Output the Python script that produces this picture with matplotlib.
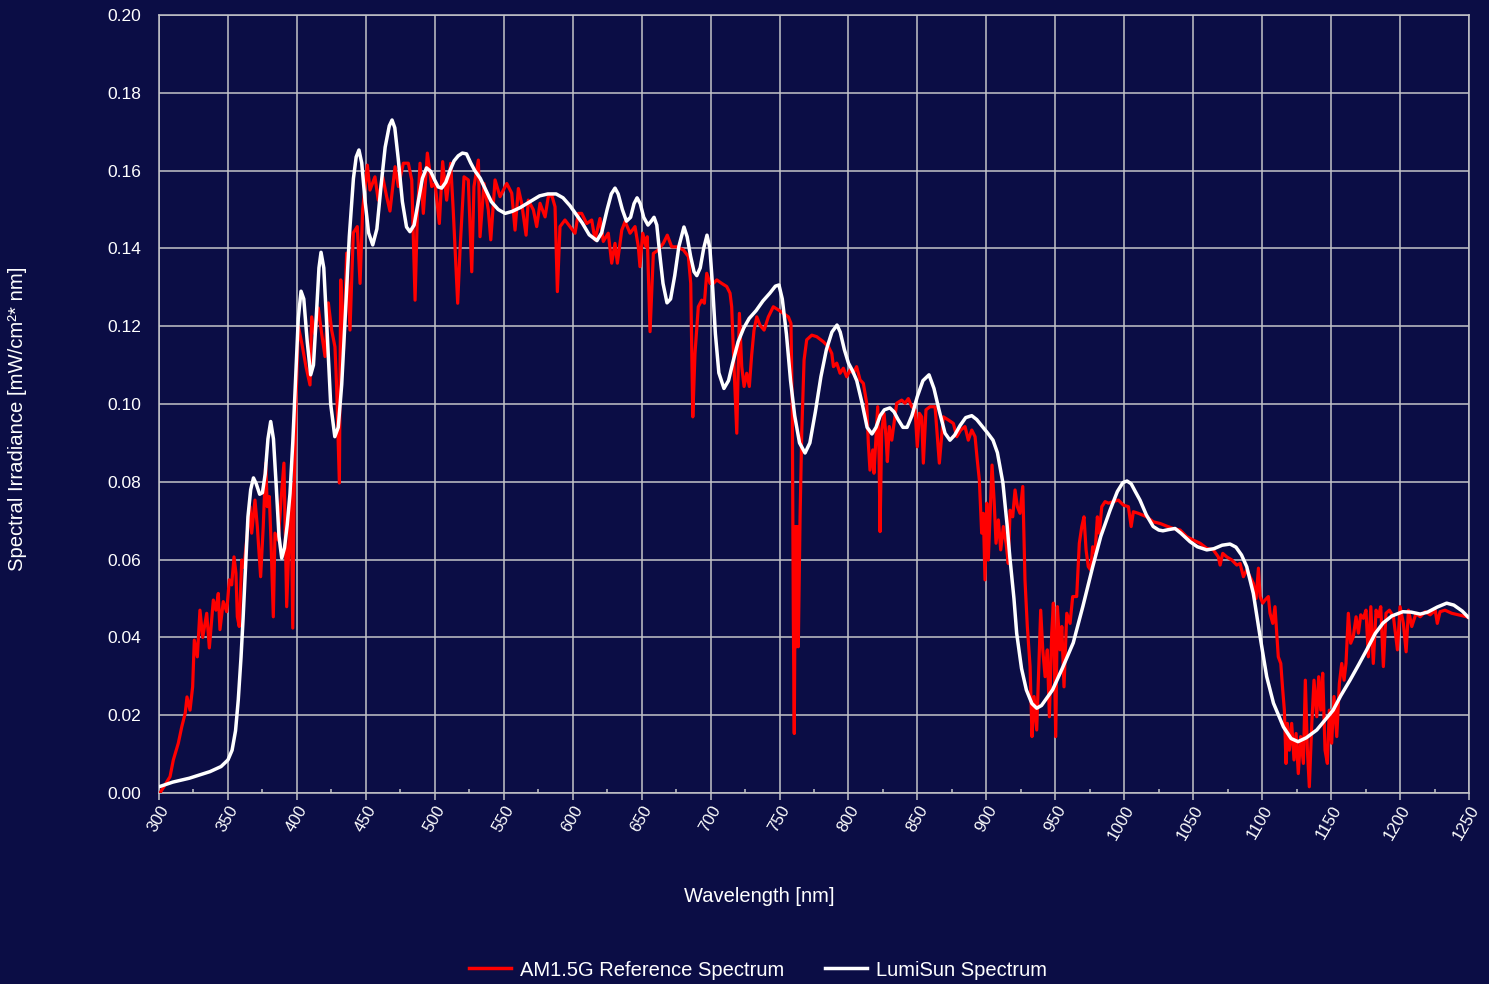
import matplotlib
matplotlib.use("Agg")
import matplotlib.pyplot as plt
from matplotlib.lines import Line2D

# ---------------- data ----------------
x_ticks = list(range(300, 1251, 50))
y_ticks = [0.00, 0.02, 0.04, 0.06, 0.08, 0.10, 0.12, 0.14, 0.16, 0.18, 0.20]

am15g_nm = [
    300.7, 308, 310.4, 314, 316.5, 319, 320.3, 322.5, 324.4, 325.6, 327.8, 329.7, 331.7, 334.6, 336.5,
    339.4, 341.3, 343, 344.2, 346.6, 349.1, 351, 352.7, 354.4, 355.8, 356.8, 358.2, 360, 361.6,
    363.6, 366, 367.2, 369.6, 371.3, 373.7, 375.6, 377.4, 378.5, 380, 381.2, 382.9, 384.1, 386.5,
    388.5, 390.6, 392.6, 394.5, 395.7, 397, 398.1, 399.4, 401, 403.5, 406.6, 409.5, 410.7, 413,
    415.5, 418, 420.4, 422.8, 425.2, 427.6, 428.9, 430.8, 431.8, 433.7, 436.1, 438.5, 440.9, 443.8,
    445.8, 447.7, 451.1, 453, 456.6, 459, 462.2, 465.1, 467.5, 471.2, 473.6, 477.2, 480.8, 483.3,
    485.7, 487.3, 489.3, 491.7, 494.6, 497.8, 500.2, 503.3, 505.7, 508.6, 511.5, 513.4, 516.6, 518.3,
    521.2, 524.3, 526.8, 528.4, 531.6, 532.8, 535.7, 538.8, 540.6, 543.7, 547.3, 552.2, 555.8, 558.2,
    560.6, 563, 566.2, 567.8, 571.5, 573.9, 576.3, 580, 582.3, 584.8, 587.2, 588.9, 590.8, 594.4,
    598, 601.7, 604.1, 606.5, 610.2, 613.8, 616.2, 619.8, 622.2, 625.8, 628.3, 630.7, 632.4, 635.6,
    638, 641.6, 645.2, 647.6, 648.8, 650.8, 653.2, 654.1, 656.1, 658.5, 662.1, 665.7, 668.6, 671.8,
    675.5, 680.3, 683.9, 685.6, 687.1, 688.7, 691.1, 693.6, 695.5, 697.2, 699.6, 702, 704.5, 708.1,
    711.7, 714.1, 715.3, 717, 719, 720.9, 722.6, 724.3, 726.2, 728.1, 729.8, 731.5, 733.5, 735.8,
    738.8, 741.9, 745.5, 749.1, 752.8, 756.4, 758.3, 759.3, 760, 760.7, 761.5, 762.2, 762.9, 763.6,
    764.9, 766.1, 767.8, 769.7, 773.4, 777, 781.8, 785.5, 787.9, 789.1, 791.5, 793.9, 796.3, 798.7,
    801.2, 803.5, 805.9, 808.4, 810.8, 813.2, 814.4, 815.6, 817.6, 818.5, 820, 821.2, 822.2, 822.9,
    824.1, 825.8, 827.2, 828.2, 829.6, 831.4, 833, 835, 838.6, 841, 843.4, 845.9, 848.3, 849.9,
    851.4, 853.1, 854.3, 856.2, 859.1, 862.8, 865.9, 868.8, 872.4, 876.1, 878.5, 881.4, 884.5, 886.9,
    889.4, 891.8, 893.4, 894.9, 896.6, 897.8, 899, 900.3, 901.4, 902.6, 904.1, 905.6, 907, 908.7,
    910.4, 912.3, 914.3, 915.9, 917.2, 919.1, 920.8, 922.5, 924.4, 926.4, 928, 929.7, 931.7, 933.1,
    934.6, 936.5, 938, 939.4, 940.9, 942.6, 944.2, 945.7, 947.4, 948.6, 950.3, 951.5, 953.4, 954.7,
    956.3, 958.3, 960.7, 962.6, 965.5, 967.4, 969.2, 970.8, 972.3, 973.9, 975.7, 977.1, 978.8, 980.5,
    981.9, 983.7, 986.1, 988.5, 992.1, 995.7, 999.4, 1003, 1005, 1006.6, 1010.2, 1016.3, 1021.1,
    1025.9, 1030.8, 1035.6, 1040.5, 1045.3, 1050.1, 1055, 1059.8, 1064.6, 1068.2, 1069.5, 1071.4,
    1074.3, 1078, 1081.6, 1084, 1086.4, 1088.8, 1091.2, 1093.6, 1095.6, 1097.3, 1098.5, 1100.4,
    1102.1, 1104.5, 1105.7, 1107.7, 1109.3, 1110.6, 1111.7, 1113.5, 1114.9, 1116.1, 1117.3, 1118.3,
    1119.7, 1121.4, 1123.1, 1124.6, 1126.2, 1127.9, 1129.9, 1131.3, 1132.8, 1134.2, 1136, 1137.6,
    1139.6, 1141, 1142.5, 1143.9, 1145.6, 1147.3, 1148.7, 1150.4, 1152.1, 1154.1, 1156, 1157.7,
    1159.4, 1160.8, 1162.5, 1164.2, 1166.1, 1168.1, 1169.8, 1171.5, 1173.4, 1175.3, 1177, 1178.8,
    1180.6, 1182.6, 1184.2, 1186, 1187.9, 1189.8, 1192.3, 1195.2, 1198.1, 1200, 1202.4, 1204.4,
    1206.1, 1208.5, 1211.6, 1214.6, 1218.2, 1221.8, 1225.5, 1227, 1229, 1232.6, 1237.5, 1242.3,
    1248.4, 1250,
]
am15g_val = [
    0.000, 0.0042, 0.0085, 0.0128, 0.017, 0.0205, 0.0247, 0.0213, 0.0273, 0.0393, 0.035, 0.047, 0.040,
    0.0462, 0.0373, 0.0496, 0.047, 0.0513, 0.042, 0.0492, 0.0466, 0.0548, 0.0535, 0.0607, 0.0565,
    0.0453, 0.0428, 0.0599, 0.058,
    0.065, 0.0736, 0.0668, 0.0753, 0.0685, 0.0556, 0.0685, 0.0848, 0.0736, 0.0762, 0.065, 0.0453,
    0.0668, 0.065, 0.0753, 0.0848, 0.0479, 0.0668, 0.0797, 0.0424, 0.0797, 0.101, 0.120, 0.1157,
    0.1096, 0.1049, 0.1224, 0.118, 0.1247, 0.118, 0.1122, 0.126, 0.119, 0.1147, 0.1036, 0.0797,
    0.1319, 0.1131, 0.1388, 0.119, 0.144, 0.1456, 0.131, 0.150, 0.1614, 0.155, 0.1584, 0.1524,
    0.1584, 0.1533, 0.1496, 0.161, 0.1559, 0.1619, 0.1619, 0.1576, 0.1267, 0.1481, 0.1619, 0.149,
    0.1645, 0.1559, 0.1567, 0.1464, 0.1623, 0.1524, 0.1619, 0.1496, 0.1259, 0.1396, 0.1584, 0.1576,
    0.134, 0.1559, 0.1627, 0.143, 0.1567, 0.1499, 0.1422, 0.1576, 0.1533, 0.1567, 0.1542, 0.1447,
    0.1554, 0.1516, 0.1434, 0.1524, 0.1499, 0.1456, 0.1516, 0.1481, 0.1533, 0.1537, 0.1507, 0.1289,
    0.1456, 0.1473, 0.1456, 0.1439, 0.149, 0.149, 0.1464, 0.1473, 0.1422, 0.1477, 0.1418, 0.1439,
    0.1362, 0.1413, 0.1362, 0.1447, 0.1469, 0.1439, 0.1456, 0.1404, 0.1353, 0.1439, 0.1404, 0.143,
    0.1186, 0.1387, 0.1396, 0.1413, 0.1434, 0.1404, 0.1404, 0.1396, 0.1379, 0.131, 0.0967, 0.113,
    0.125, 0.1267, 0.1259, 0.1336, 0.131, 0.131, 0.1319, 0.131, 0.1302, 0.1285, 0.125, 0.1096,
    0.0925, 0.1233, 0.1096, 0.1045, 0.1079, 0.1045, 0.1126, 0.119, 0.1224, 0.1203, 0.119, 0.1224,
    0.125, 0.1242, 0.1233, 0.1224, 0.1207, 0.0967, 0.0453, 0.0153, 0.0685, 0.0376, 0.0685, 0.0376,
    0.071, 0.0925, 0.1113, 0.1165, 0.1177, 0.1173, 0.116, 0.1147, 0.113, 0.1096, 0.1105, 0.1079,
    0.1092, 0.107, 0.1087, 0.1079, 0.1096, 0.1062, 0.1053, 0.1002, 0.0899, 0.083, 0.0882, 0.0822,
    0.0916, 0.0993, 0.0865, 0.0672, 0.0933, 0.0976, 0.0916, 0.0852, 0.0942, 0.0907, 0.095, 0.1002,
    0.101, 0.1002, 0.1014, 0.0993, 0.0985, 0.089, 0.0976, 0.0967, 0.0848, 0.0985, 0.0993, 0.0993,
    0.0848, 0.0967, 0.0959, 0.095, 0.0916, 0.0933, 0.0942, 0.0907, 0.0933, 0.0916, 0.0856, 0.0805,
    0.0668, 0.0719, 0.0548, 0.0745, 0.0599, 0.071, 0.0843, 0.0753, 0.0642, 0.0702, 0.0625, 0.0685,
    0.0642, 0.059, 0.0727, 0.071, 0.0779, 0.0736, 0.0719, 0.0788, 0.0548, 0.0428, 0.0325, 0.0145,
    0.0248, 0.0162, 0.0325, 0.047, 0.0368, 0.0299, 0.0368, 0.0196, 0.0411, 0.0488, 0.0145, 0.0479,
    0.0368, 0.0428, 0.0273, 0.0462, 0.0436, 0.0505, 0.0505, 0.0642, 0.0685, 0.071, 0.0625, 0.0582,
    0.0573, 0.0633, 0.0616, 0.071, 0.0668, 0.0736, 0.0749, 0.0745, 0.0749, 0.0753, 0.074, 0.0736,
    0.0685, 0.0723, 0.0719, 0.071, 0.0697, 0.0693, 0.0686, 0.068, 0.0676, 0.0659, 0.065, 0.0642,
    0.0629, 0.0625, 0.0607, 0.0586, 0.0616, 0.0607, 0.0599, 0.0586, 0.059, 0.0556, 0.0573, 0.0556,
    0.0539, 0.050, 0.0578, 0.0505, 0.0488, 0.0496, 0.0505, 0.0462, 0.0436, 0.0479, 0.0411, 0.035,
    0.0333, 0.0265, 0.0213, 0.0076, 0.0179, 0.011, 0.0179, 0.0085, 0.0153, 0.005, 0.0145, 0.0076,
    0.029, 0.011, 0.0016, 0.0179, 0.029, 0.0196, 0.0299, 0.0213, 0.0308, 0.011, 0.0076, 0.0213,
    0.0128, 0.0248, 0.0145, 0.0282, 0.0333, 0.029, 0.0333, 0.0462, 0.0385, 0.0402, 0.0453, 0.0411,
    0.0458, 0.0449, 0.047, 0.035, 0.0479, 0.0333, 0.047, 0.0453, 0.0479, 0.0325, 0.0462, 0.047,
    0.0453, 0.0368, 0.0479, 0.0436, 0.0363, 0.047, 0.0428, 0.0462, 0.0453, 0.0466, 0.0458, 0.047,
    0.0436, 0.0466, 0.047, 0.0462, 0.0458, 0.0453, 0.045,
]

lumisun_nm = [
    300, 310, 322, 337, 345, 350, 353, 355.5, 357.5, 359.5, 361, 363, 364.5, 366.5, 368.5, 370.5,
    373, 375, 377, 379, 381, 383, 385, 387, 389, 391, 393, 395, 397, 399, 401, 403, 405, 407.5, 410,
    412, 414, 416, 417.5, 419.5, 422, 424.5, 427.5, 430, 432.5, 435, 438, 441, 443, 445, 447, 449.5,
    452, 455, 458, 461, 464, 467, 469, 471, 473.5, 476.5, 479.5, 482, 485, 488, 491, 494, 497, 500,
    502.5, 505, 508, 511, 514, 517, 520, 523, 526, 529, 533, 537, 541, 546, 551, 556, 562, 569, 576,
    582, 588, 593, 598, 602, 607, 612, 617.6, 621, 625, 628, 630.7, 633, 636, 639, 642, 644.5, 646.7,
    649, 651.5, 654.6, 657, 659, 661, 663, 665.5, 668.4, 671, 674, 677, 680.7, 683, 685.5, 688, 690,
    692.5, 695, 697.4, 699.5, 701.5, 703.5, 706, 709.7, 713, 716, 720, 724, 728, 733, 738, 743, 747,
    749.6, 752, 755, 758, 761, 764.5, 768.5, 772, 776, 780, 784, 788, 791.7, 794, 797, 800, 803, 806,
    810, 813.5, 817, 820, 823, 826, 830, 833, 836, 839.5, 842.5, 846, 850, 854, 858.4, 862, 866, 870,
    873.6, 877, 881, 885, 889.4, 893, 897.6, 901, 904.8, 908, 912, 915, 917, 920, 922, 925.5, 929,
    933, 936.5, 940, 944, 948, 955, 963, 970, 977, 983, 989.7, 995, 999, 1002, 1005, 1008, 1011.4,
    1016, 1021, 1025, 1028, 1032, 1036.8, 1041, 1047.7, 1053, 1059.8, 1065, 1071, 1076.7, 1081, 1085,
    1088.8, 1093.6, 1098.5, 1103.3, 1108.2, 1115.4, 1121, 1126, 1132, 1139.6, 1145, 1151.5, 1157,
    1163.7, 1170, 1175.8, 1182, 1187.7, 1194, 1202, 1208, 1214.6, 1220, 1227, 1233.8, 1239, 1245,
    1250,
]
lumisun_val = [
    0.0016, 0.0028, 0.0038, 0.0055, 0.0068, 0.0085, 0.011, 0.016, 0.024, 0.035, 0.045, 0.060, 0.071,
    0.078, 0.081, 0.0795, 0.0768, 0.0772, 0.082, 0.091, 0.0955, 0.091, 0.079, 0.066, 0.0604, 0.063,
    0.069, 0.077, 0.090, 0.106, 0.122, 0.129, 0.127, 0.116, 0.1075, 0.110, 0.122, 0.135, 0.139, 0.135,
    0.118, 0.100, 0.0916, 0.094, 0.105, 0.122, 0.143, 0.158, 0.1635, 0.1653, 0.162, 0.152, 0.144,
    0.1409, 0.145, 0.156, 0.166, 0.1715, 0.173, 0.171, 0.163, 0.152, 0.1455, 0.1443, 0.146, 0.152,
    0.158, 0.1607, 0.1598, 0.1575, 0.1558, 0.1555, 0.157, 0.160, 0.1625, 0.1638, 0.1645, 0.1643,
    0.162, 0.160, 0.158, 0.155, 0.152, 0.150, 0.149, 0.1495, 0.1505, 0.152, 0.1535, 0.154, 0.154,
    0.153, 0.151, 0.149, 0.1465, 0.1435, 0.142, 0.144, 0.150, 0.154, 0.1555, 0.154, 0.150, 0.147,
    0.148, 0.1515, 0.153, 0.1515, 0.148, 0.146, 0.147, 0.148, 0.146, 0.139, 0.131, 0.126, 0.127,
    0.133, 0.1405, 0.1455, 0.143, 0.138, 0.134, 0.133, 0.135, 0.140, 0.1434, 0.140, 0.130, 0.118,
    0.108, 0.104, 0.106, 0.1105, 0.116, 0.1195, 0.122, 0.124, 0.1265, 0.1285, 0.1303, 0.1306, 0.127,
    0.118, 0.106, 0.097, 0.090, 0.0874, 0.090, 0.098, 0.107, 0.114, 0.1185, 0.1203, 0.1185, 0.114,
    0.1105, 0.1085, 0.106, 0.100, 0.094, 0.0923, 0.094, 0.097, 0.0985, 0.099, 0.098, 0.096, 0.094,
    0.094, 0.097, 0.102, 0.106, 0.1075, 0.104, 0.098, 0.0925, 0.0907, 0.092, 0.0945, 0.0965, 0.097,
    0.096, 0.094, 0.0925, 0.0907, 0.0875, 0.0797, 0.069, 0.0607, 0.050, 0.041, 0.032, 0.0265, 0.023,
    0.0218, 0.0225, 0.0245, 0.0265, 0.032, 0.0386, 0.048, 0.058, 0.066, 0.0727, 0.0775, 0.0798,
    0.0802, 0.0795, 0.0775, 0.0753, 0.0715, 0.0685, 0.0676, 0.0674, 0.0677, 0.068, 0.0668, 0.0646,
    0.0633, 0.0625, 0.0628, 0.0637, 0.064, 0.0632, 0.0612, 0.0582, 0.0513, 0.0402, 0.0299, 0.0231,
    0.017, 0.0140, 0.0132, 0.0142, 0.0162, 0.0185, 0.0213, 0.025, 0.029, 0.033, 0.0368, 0.041,
    0.0437, 0.0455, 0.0466, 0.0465, 0.046, 0.0465, 0.0478, 0.0488, 0.0483, 0.0468, 0.045,
]

series_labels = ["AM1.5G Reference Spectrum", "LumiSun Spectrum"]

# ---------------- style ----------------
BG = "#0b0d45"
GRID = "#c4c4c8"
TXT = "#ffffff"
FONT = ["Liberation Sans", "DejaVu Sans"]
plt.rcParams["font.family"] = FONT

W, H = 1489, 984
fig = plt.figure(figsize=(W / 100, H / 100), dpi=100, facecolor=BG)
ax = fig.add_axes([159 / W, 1 - 793 / H, (1469 - 159) / W, (793 - 15) / H])
ax.set_facecolor(BG)

ax.plot(am15g_nm, am15g_val, color="#ff0000", lw=2.3, solid_joinstyle="round", zorder=3)
ax.plot(lumisun_nm, lumisun_val, color="#ffffff", lw=2.5, solid_joinstyle="round",
        solid_capstyle="round", zorder=4)

ax.set_xlim(300, 1250)
ax.set_ylim(0, 0.20)
ax.set_xticks(x_ticks)
ax.set_xticks(list(range(325, 1250, 50)), minor=True)
ax.set_yticks(y_ticks)
ax.set_yticklabels([f"{v:.2f}" for v in y_ticks])
ax.set_xticklabels([str(v) for v in x_ticks])

ax.grid(True, which="major", color=GRID, lw=1.1, zorder=1)
ax.set_axisbelow(True)
for s in ax.spines.values():
    s.set_color(GRID)
    s.set_linewidth(1.1)

ax.tick_params(axis="x", which="major", direction="out", length=5, width=1.1, color=GRID,
               labelsize=12, labelcolor=TXT, labelrotation=60, pad=2)
ax.tick_params(axis="x", which="minor", direction="in", length=3, width=1.1, color=GRID)
ax.tick_params(axis="y", which="major", length=0, labelsize=12.5, labelcolor=TXT, pad=13)
for lbl in ax.get_xticklabels():
    lbl.set_ha("right")
    lbl.set_va("top")
    lbl.set_rotation_mode("anchor")

fig.text(759 / W, 1 - 896 / H, "Wavelength [nm]", color=TXT, fontsize=14.5,
         ha="center", va="center")
fig.text(18 / W, 1 - 419 / H, "Spectral Irradiance [mW/cm²* nm]", color=TXT, fontsize=14.6,
         rotation=90, ha="center", va="center")

handles = [Line2D([], [], color="#ff0000", lw=2.5), Line2D([], [], color="#ffffff", lw=2.5)]
leg = fig.legend(handles, series_labels, loc="center", bbox_to_anchor=(758 / W, 1 - 970 / H),
                 ncol=2, frameon=False, fontsize=14.5, handlelength=2.1, handletextpad=0.45,
                 columnspacing=2.0, borderpad=0)
for t in leg.get_texts():
    t.set_color(TXT)

fig.savefig("out.png", dpi=100, facecolor=BG)
